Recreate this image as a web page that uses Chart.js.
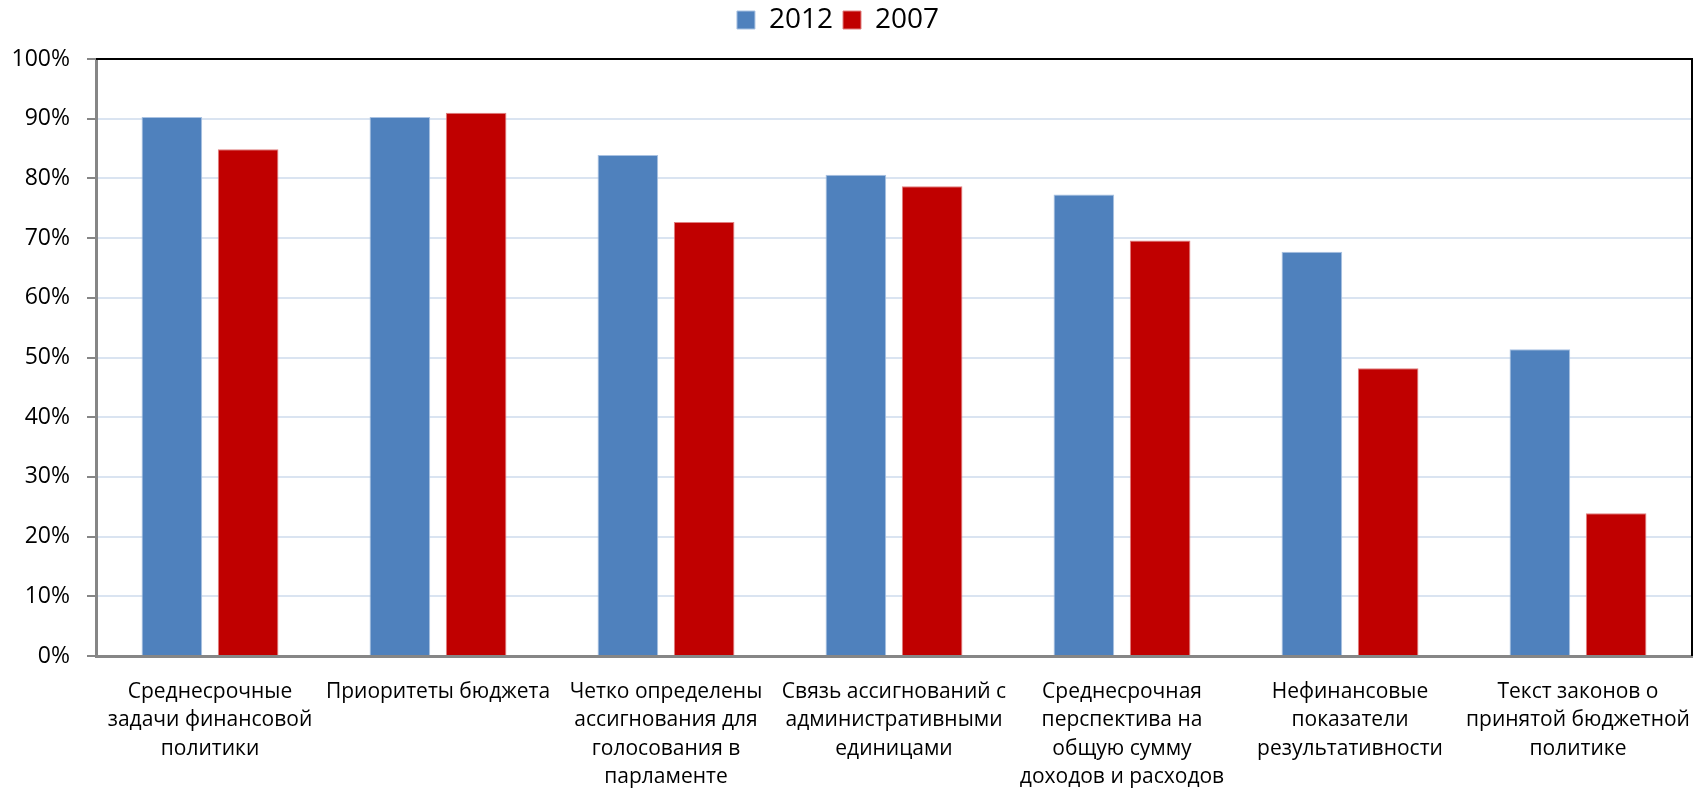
<!DOCTYPE html>
<html>
<head>
<meta charset="utf-8">
<script src="https://cdn.jsdelivr.net/npm/chart.js@4/dist/chart.umd.min.js"></script>
<style>
  html, body { margin: 0; padding: 0; background: #fff; }
  #wrap { width: 1702px; height: 792px; position: relative; }
</style>
</head>
<body>
<div id="wrap"><canvas id="c" width="1702" height="792"></canvas></div>
<script>
const categories = [
  ["Среднесрочные", "задачи финансовой", "политики"],
  ["Приоритеты бюджета"],
  ["Четко определены", "ассигнования для", "голосования в", "парламенте"],
  ["Связь ассигнований с", "административными", "единицами"],
  ["Среднесрочная", "перспектива на", "общую сумму", "доходов и расходов"],
  ["Нефинансовые", "показатели", "результативности"],
  ["Текст законов о", "принятой бюджетной", "политике"]
];
const seriesNames = ["2012", "2007"];
const values2012 = [90.3, 90.3, 83.9, 80.6, 77.3, 67.7, 51.4];
const values2007 = [84.9, 91.0, 72.7, 78.7, 69.6, 48.2, 23.9];
const yTicks = [0, 10, 20, 30, 40, 50, 60, 70, 80, 90, 100];

const frame = {
  id: 'frame',
  afterLayout(chart) {
    const lg = chart.legend;
    if (lg) { lg.left -= 8; lg.right -= 8; lg.top -= 15; lg.bottom -= 15; }
  },
  afterDatasetsDraw(chart) {
    const a = chart.chartArea, ctx = chart.ctx;
    ctx.save();
    ctx.strokeStyle = '#000';
    ctx.lineWidth = 2;
    ctx.beginPath();
    ctx.moveTo(a.left, a.top);
    ctx.lineTo(a.right, a.top);
    ctx.lineTo(a.right, a.bottom);
    ctx.stroke();
    ctx.restore();
  }
};

new Chart(document.getElementById('c'), {
  type: 'bar',
  data: {
    labels: categories,
    datasets: [
      { label: seriesNames[0], data: values2012, backgroundColor: '#4F81BD', borderColor: '#A9C2E2', borderWidth: 1,
        categoryPercentage: 0.669, barPercentage: 0.795 },
      { label: seriesNames[1], data: values2007, backgroundColor: '#C00000', borderColor: '#E08080', borderWidth: 1,
        categoryPercentage: 0.669, barPercentage: 0.795 }
    ]
  },
  options: {
    responsive: false,
    animation: false,
    layout: { padding: { left: 0, right: 10, top: 11, bottom: 0 } },
    plugins: {
      legend: {
        position: 'top',
        labels: {
          boxWidth: 18, boxHeight: 18, padding: 10, color: '#000',
          font: { family: "'Open Sans'", size: 28 }
        }
      },
      tooltip: { enabled: false }
    },
    scales: {
      x: {
        grid: { display: false, drawTicks: false },
        border: { color: '#868686', width: 3 },
        ticks: {
          color: '#000', padding: 22, maxRotation: 0, minRotation: 0, autoSkip: false,
          font: { family: "'Open Sans'", size: 21, lineHeight: 1.348 }
        },
        afterFit(s) { s.height = 136; s.paddingLeft = 0; s.paddingRight = 0; }
      },
      y: {
        min: 0, max: 100,
        afterBuildTicks(s) { s.ticks = yTicks.map(v => ({ value: v })); },
        grid: { color: '#DAE4F1', lineWidth: 2, tickColor: '#868686', tickLength: 9, drawTicks: true },
        border: { color: '#868686', width: 3 },
        ticks: {
          color: '#000', padding: 17,
          font: { family: "'Open Sans'", size: 23 },
          callback: v => v + '%'
        },
        afterFit(s) { s.width = 96; s.paddingTop = 0; s.paddingBottom = 0; }
      }
    }
  },
  plugins: [frame]
});
</script>
</body>
</html>
